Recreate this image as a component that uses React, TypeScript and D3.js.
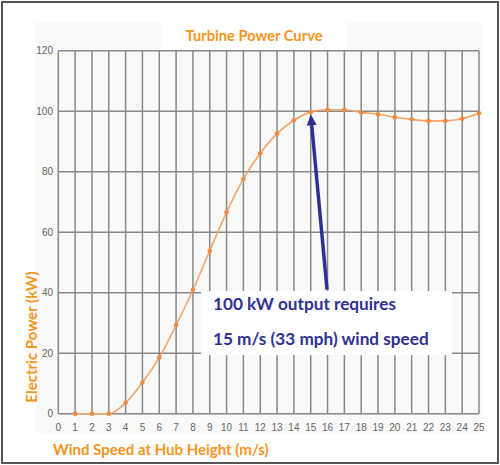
import React from "react";
import * as d3 from "d3";

const windSpeeds = [1, 2, 3, 4, 5, 6, 7, 8, 9, 10, 11, 12, 13, 14, 15, 16, 17, 18, 19, 20, 21, 22, 23, 24, 25];
const powerKW = [0, 0, 0, 3.6, 10.3, 18.6, 29.3, 40.9, 53.9, 66.6, 77.6, 86.1, 92.6, 97.0, 99.7, 100.5, 100.5, 99.6, 99.0, 98.0, 97.3, 96.8, 96.8, 97.5, 99.3];
const xTicks = d3.range(0, 26);
const yTicks = [0, 20, 40, 60, 80, 100, 120];
const title = "Turbine Power Curve";
const xLabel = "Wind Speed at Hub Height (m/s)";
const yLabel = "Electric Power (kW)";
const noteLines = ["100 kW output requires", "15 m/s (33 mph) wind speed"];
const arrowFrom = { x: 15.97, y: 41 };
const arrowTo = { x: 15, y: 99 };

export default function App() {
  const x = d3.scaleLinear().domain([0, 25]).range([58.3, 479]);
  const y = d3.scaleLinear().domain([0, 120]).range([413.7, 50.7]);
  const pts: [number, number][] = windSpeeds.map((w, i) => [x(w), y(powerKW[i])]);
  const line = d3.line().curve(d3.curveMonotoneX)(pts) || "";
  const orange = "#f7941d";
  const navy = "#2e3192";
  const grid = "#888";

  const ax0 = x(arrowFrom.x), ay0 = y(arrowFrom.y);
  const ax1 = x(arrowTo.x), ay1 = y(arrowTo.y);
  const ang = Math.atan2(ay1 - ay0, ax1 - ax0);
  const hl = 11, hw = 5;
  const bx = ax1 - hl * Math.cos(ang), by = ay1 - hl * Math.sin(ang);
  const px = -Math.sin(ang), py = Math.cos(ang);
  const head = `M${ax1},${ay1} L${bx + px * hw},${by + py * hw} L${bx - px * hw},${by - py * hw} Z`;

  return (
    <svg width={500} height={465} style={{ position: "absolute", left: 0, top: 0, background: "#fff" }}>
      <rect x={35} y={22} width={448} height={411} fill="#f9f9f9" />
      <rect x={162} y={18} width={185} height={32} fill="#fff" />
      {xTicks.map((t) => (
        <line key={"vx" + t} x1={x(t)} x2={x(t)} y1={y(0)} y2={y(120)} stroke={grid} strokeWidth={1.5} />
      ))}
      {yTicks.map((t) => (
        <line key={"hy" + t} x1={x(0)} x2={x(25)} y1={y(t)} y2={y(t)} stroke={grid} strokeWidth={1.5} />
      ))}
      {yTicks.map((t) => (
        <text key={"ty" + t} x={53} y={y(t)} dy="0.35em" textAnchor="end" fontFamily="Liberation Sans, Arial, sans-serif" fontSize={10} fill="#666">{t}</text>
      ))}
      {xTicks.map((t) => (
        <text key={"tx" + t} x={x(t)} y={427} dy="0.35em" textAnchor="middle" fontFamily="Liberation Sans, Arial, sans-serif" fontSize={10} fill="#666">{t}</text>
      ))}
      <rect x={201} y={291} width={251} height={64} fill="#fff" />
      <path d={line} fill="none" stroke="#f5a468" strokeWidth={1.6} />
      {pts.map((p, i) => (
        <circle key={"p" + i} cx={p[0]} cy={p[1]} r={2.3} fill="#f08a3c" />
      ))}
      <line x1={ax0} y1={ay0} x2={bx} y2={by} stroke={navy} strokeWidth={3.5} />
      <path d={head} fill={navy} />
      {noteLines.map((s, i) => (
        <text key={"n" + i} x={213} y={310 + i * 35} fontFamily="Lato, sans-serif" fontWeight="bold" fontSize={17.2} fill={navy}>{s}</text>
      ))}
      <text x={254} y={41} textAnchor="middle" fontFamily="Lato, sans-serif" fontWeight="bold" fontSize={14.7} fill={orange}>{title}</text>
      <text x={53} y={455} fontFamily="Lato, sans-serif" fontWeight="bold" fontSize={15} fill={orange}>{xLabel}</text>
      <text transform="translate(37,337) rotate(-90)" textAnchor="middle" fontFamily="Lato, sans-serif" fontWeight="bold" fontSize={15} fill={orange}>{yLabel}</text>
      <rect x={2} y={2} width={496} height={461} fill="none" stroke="#555" strokeWidth={2} />
    </svg>
  );
}
